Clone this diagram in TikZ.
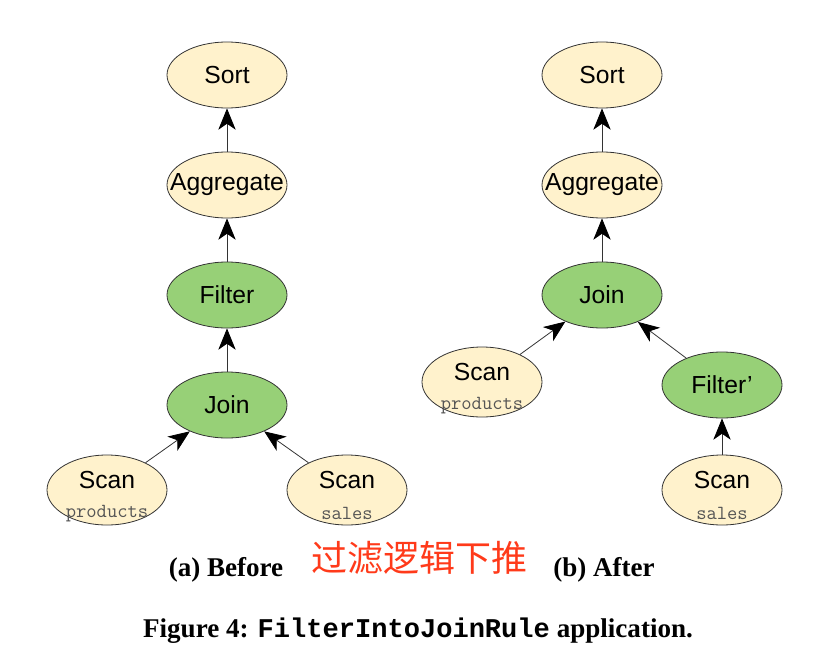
\documentclass[tikz,border=0pt]{standalone}
\usepackage{fontspec}
\setmainfont{Liberation Serif}
\setsansfont{Liberation Sans}
\newfontfamily\capmono{Liberation Mono}
\newfontfamily\cjk{Noto Sans CJK SC}
\usetikzlibrary{shapes.geometric,arrows.meta}
\definecolor{cream}{HTML}{FFF2CC}
\definecolor{leaf}{HTML}{97D077}
\definecolor{redtxt}{HTML}{FF3A1A}
\definecolor{monogray}{HTML}{555555}
\newcommand{\lbl}[1]{\makebox[0pt]{\raisebox{-2pt}{#1}}}
\begin{document}
\begin{tikzpicture}[x=0.75pt,y=-0.75pt,
  op/.style={ellipse,draw=black!80,line width=0.6pt,inner sep=0pt,minimum width=90pt,minimum height=49.5pt,font=\sffamily\fontsize{18.5}{22}\selectfont},
  crm/.style={op,fill=cream},
  grn/.style={op,fill=leaf},
  scan/.style={crm,minimum height=52.5pt},
  scanword/.style={font=\sffamily\fontsize{18.5}{22}\selectfont,inner sep=0pt,yshift=7.5pt},
  tbl/.style={font=\ttfamily\fontsize{15}{18}\selectfont,text=monogray,inner sep=0pt,yshift=-17.5pt},
  flow/.style={draw=black!80,line width=0.6pt,-{Stealth[length=16pt,width=13pt,inset=4.5pt,color=black]}},
  captxt/.style={font=\bfseries\fontsize{20.3}{24}\selectfont}
]
\useasboundingbox (0,0) rectangle (820,660);
% left
\node[crm] (s1) at (227,75) {\lbl{Sort}};
\node[crm] (a1) at (227,185) {\lbl{Aggregate}};
\node[grn] (f1) at (227,295) {\lbl{Filter}};
\node[grn] (j1) at (227,405) {\lbl{Join}};
\node[scan] (p1) at (107,490) {};
\node[scanword] (p1a) at (p1) {Scan};
\node[tbl] (p1b) at (p1) {products};
\node[scan] (q1) at (347,490) {};
\node[scanword] (q1a) at (q1) {Scan};
\node[tbl] (q1b) at (q1) {sales};
\draw[flow] (a1) -- (s1);
\draw[flow] (f1) -- (a1);
\draw[flow] (j1) -- (f1);
\draw[flow] (p1) -- (j1);
\draw[flow] (q1) -- (j1);
% right
\node[crm] (s2) at (602,75) {\lbl{Sort}};
\node[crm] (a2) at (602,185) {\lbl{Aggregate}};
\node[grn] (j2) at (602,295) {\lbl{Join}};
\node[scan] (p2) at (482,382) {};
\node[scanword] (p2a) at (p2) {Scan};
\node[tbl] (p2b) at (p2) {products};
\node[grn] (f2) at (722,385) {\lbl{Filter\textquoteright}};
\node[scan] (q2) at (722,490) {};
\node[scanword] (q2a) at (q2) {Scan};
\node[tbl] (q2b) at (q2) {sales};
\draw[flow] (a2) -- (s2);
\draw[flow] (j2) -- (a2);
\draw[flow] (p2) -- (j2);
\draw[flow] (f2) -- (j2);
\draw[flow] (q2) -- (f2);
% captions
\node[captxt] (ca) at (226,570) {(a) Before};
\node[captxt] (cb) at (604,570) {(b) After};
\node[font=\cjk\fontsize{27}{30}\selectfont,text=redtxt] (zh) at (419,558) {过滤逻辑下推};
\node[captxt] (fig) at (418,631) {Figure 4: {\capmono\bfseries FilterIntoJoinRule} application.};
\end{tikzpicture}
\end{document}
